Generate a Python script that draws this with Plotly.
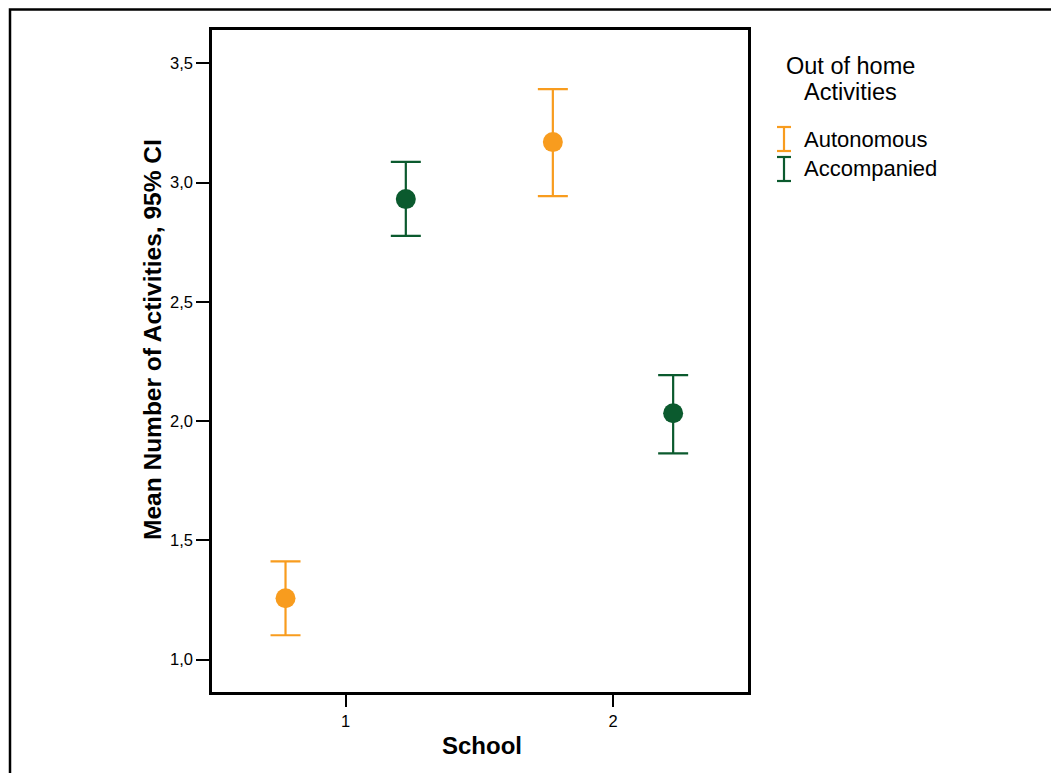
import plotly.graph_objects as go

schools = [1, 2]
groups = ["Autonomous", "Accompanied"]
offsets = [-0.225, 0.225]
means = {"Autonomous": [1.257, 3.170], "Accompanied": [2.931, 2.033]}
upper = {"Autonomous": [1.412, 3.392], "Accompanied": [3.087, 2.193]}
lower = {"Autonomous": [1.102, 2.943], "Accompanied": [2.777, 1.865]}
colors = {"Autonomous": "#F89C1E", "Accompanied": "#0B5A2E"}
yticks = [1.0, 1.5, 2.0, 2.5, 3.0, 3.5]

# page has an 8px body margin; work in page coordinates and subtract it
OFF = 8
PW, PH = 1059, 781
W, H = PW - 2 * OFF, PH - 2 * OFF
# plot area in page coords
PL, PR, PT, PB = 212, 748, 30, 692
L, R, T, B = PL - OFF, PR - OFF, PT - OFF, PB - OFF

FONT = "Arial, Liberation Sans, sans-serif"

fig = go.Figure()
for g, off in zip(groups, offsets):
    xs = [s + off for s in schools]
    m = means[g]
    fig.add_trace(go.Scatter(
        x=xs, y=m, mode="markers", name=g, showlegend=False,
        marker=dict(color=colors[g], size=20, line=dict(width=0)),
        error_y=dict(type="data", symmetric=False,
                     array=[u - v for u, v in zip(upper[g], m)],
                     arrayminus=[v - l for v, l in zip(m, lower[g])],
                     color=colors[g], thickness=2.2, width=15),
    ))

def px_x(p):  # page x -> paper
    return (p - OFF - L) / (R - L)

def px_y(p):  # page y -> paper
    return (B - (p - OFF)) / (B - T)

shapes = [
    dict(type="rect", xref="paper", yref="paper",
         x0=px_x(10), x1=px_x(1120), y0=px_y(840), y1=px_y(9.5),
         line=dict(color="black", width=2.5), fillcolor="rgba(0,0,0,0)", layer="below"),
]
annotations = [
    dict(text="Out of home", xref="paper", yref="paper", x=px_x(784), y=px_y(66),
         xanchor="left", yanchor="middle", showarrow=False,
         font=dict(family=FONT, size=23.5, color="black")),
    dict(text="Activities", xref="paper", yref="paper", x=px_x(802), y=px_y(92),
         xanchor="left", yanchor="middle", showarrow=False,
         font=dict(family=FONT, size=23.5, color="black")),
    dict(text="<b>Mean Number of Activities, 95% CI</b>", xref="paper", yref="paper",
         x=px_x(152), y=px_y(340), xanchor="center", yanchor="middle", textangle=-90,
         showarrow=False, font=dict(family=FONT, size=24.5, color="black")),
    dict(text="<b>School</b>", xref="paper", yref="paper",
         x=px_x(482), y=px_y(745), xanchor="center", yanchor="middle",
         showarrow=False, font=dict(family=FONT, size=24, color="black")),
]
leg_y = [139, 169]
leg_text_y = [140, 168]
for g, yy, ty in zip(groups, leg_y, leg_text_y):
    xc = 784
    shapes.append(dict(type="line", xref="paper", yref="paper",
                       x0=px_x(xc), x1=px_x(xc), y0=px_y(yy - 12), y1=px_y(yy + 12),
                       line=dict(color=colors[g], width=2.2)))
    for dy in (-12, 12):
        shapes.append(dict(type="line", xref="paper", yref="paper",
                           x0=px_x(xc - 7), x1=px_x(xc + 7), y0=px_y(yy + dy), y1=px_y(yy + dy),
                           line=dict(color=colors[g], width=2.2)))
    annotations.append(dict(text=g, xref="paper", yref="paper", x=px_x(802), y=px_y(ty),
                            xanchor="left", yanchor="middle", showarrow=False,
                            font=dict(family=FONT, size=22, color="black")))

fig.update_layout(
    width=W, height=H,
    margin=dict(l=L, r=W - R, t=T, b=H - B, pad=0),
    paper_bgcolor="white", plot_bgcolor="white",
    separators=",.",
    showlegend=False,
    shapes=shapes, annotations=annotations,
    font=dict(family=FONT, color="black"),
    xaxis=dict(range=[0.5, 2.505], tickvals=schools, ticktext=[str(s) for s in schools],
               ticks="outside", ticklen=12, tickwidth=2.2, tickcolor="black",
               showline=True, linecolor="black", linewidth=2.5, mirror=True,
               showgrid=False, zeroline=False,
               tickfont=dict(size=16.5, color="black")),
    yaxis=dict(range=[0.864, 3.64], tickvals=yticks, tickformat=".1f",
               ticks="outside", ticklen=13, tickwidth=2.2, tickcolor="black",
               showline=True, linecolor="black", linewidth=2.5, mirror=True,
               showgrid=False, zeroline=False,
               tickfont=dict(size=16.5, color="black")),
)

fig.write_html("out.html")
